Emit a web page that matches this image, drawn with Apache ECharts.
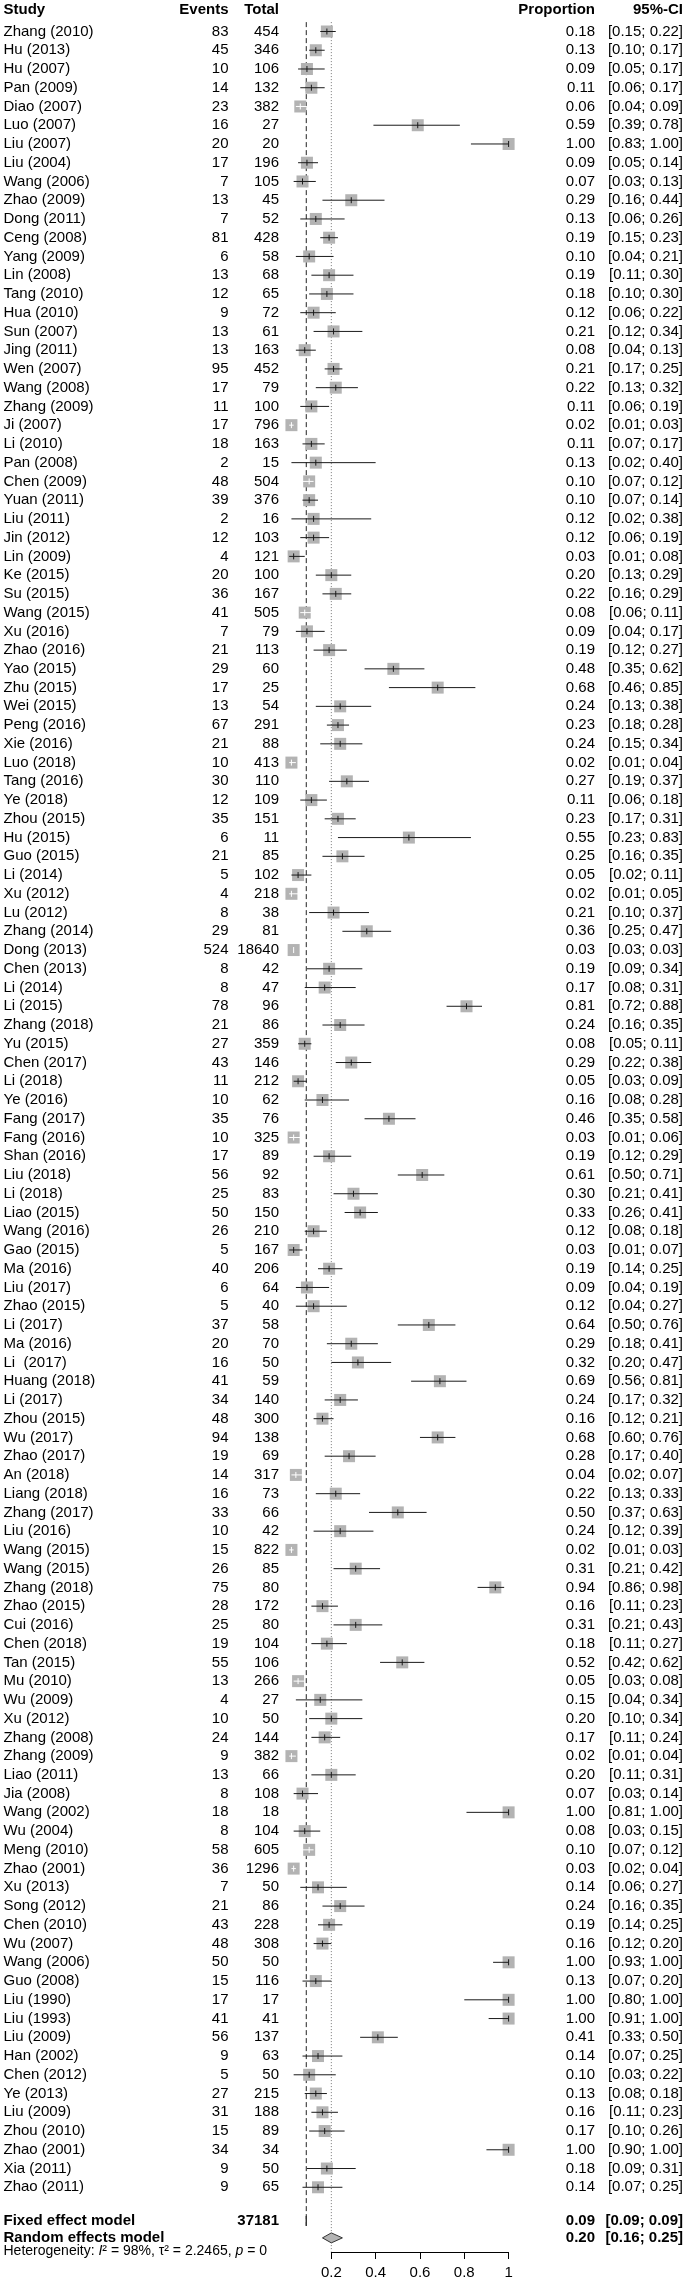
<!DOCTYPE html>
<html>
<head>
<meta charset="utf-8">
<script src="https://cdn.jsdelivr.net/npm/echarts@6/dist/echarts.min.js"></script>
<style>
  html, body { margin: 0; padding: 0; background: #fff; }
  #chart { width: 685px; height: 2281px; }
</style>
</head>
<body>
<div id="chart"></div>
<script>
// study rows, top to bottom
const studies = [
  'Zhang (2010)', 'Hu (2013)', 'Hu (2007)', 'Pan (2009)', 'Diao (2007)', 'Luo (2007)', 'Liu (2007)', 'Liu (2004)', 'Wang (2006)', 'Zhao (2009)',
  'Dong (2011)', 'Ceng (2008)', 'Yang (2009)', 'Lin (2008)', 'Tang (2010)', 'Hua (2010)', 'Sun (2007)', 'Jing (2011)', 'Wen (2007)', 'Wang (2008)',
  'Zhang (2009)', 'Ji (2007)', 'Li (2010)', 'Pan (2008)', 'Chen (2009)', 'Yuan (2011)', 'Liu (2011)', 'Jin (2012)', 'Lin (2009)', 'Ke (2015)',
  'Su (2015)', 'Wang (2015)', 'Xu (2016)', 'Zhao (2016)', 'Yao (2015)', 'Zhu (2015)', 'Wei (2015)', 'Peng (2016)', 'Xie (2016)', 'Luo (2018)',
  'Tang (2016)', 'Ye (2018)', 'Zhou (2015)', 'Hu (2015)', 'Guo (2015)', 'Li (2014)', 'Xu (2012)', 'Lu (2012)', 'Zhang (2014)', 'Dong (2013)',
  'Chen (2013)', 'Li (2014)', 'Li (2015)', 'Zhang (2018)', 'Yu (2015)', 'Chen (2017)', 'Li (2018)', 'Ye (2016)', 'Fang (2017)', 'Fang (2016)',
  'Shan (2016)', 'Liu (2018)', 'Li (2018)', 'Liao (2015)', 'Wang (2016)', 'Gao (2015)', 'Ma (2016)', 'Liu (2017)', 'Zhao (2015)', 'Li (2017)',
  'Ma (2016)', 'Li  (2017)', 'Huang (2018)', 'Li (2017)', 'Zhou (2015)', 'Wu (2017)', 'Zhao (2017)', 'An (2018)', 'Liang (2018)', 'Zhang (2017)',
  'Liu (2016)', 'Wang (2015)', 'Wang (2015)', 'Zhang (2018)', 'Zhao (2015)', 'Cui (2016)', 'Chen (2018)', 'Tan (2015)', 'Mu (2010)', 'Wu (2009)',
  'Xu (2012)', 'Zhang (2008)', 'Zhang (2009)', 'Liao (2011)', 'Jia (2008)', 'Wang (2002)', 'Wu (2004)', 'Meng (2010)', 'Zhao (2001)', 'Xu (2013)',
  'Song (2012)', 'Chen (2010)', 'Wu (2007)', 'Wang (2006)', 'Guo (2008)', 'Liu (1990)', 'Liu (1993)', 'Liu (2009)', 'Han (2002)', 'Chen (2012)',
  'Ye (2013)', 'Liu (2009)', 'Zhou (2010)', 'Zhao (2001)', 'Xia (2011)', 'Zhao (2011)'
]
const events = [
  83, 45, 10, 14, 23, 16, 20, 17, 7, 13,
  7, 81, 6, 13, 12, 9, 13, 13, 95, 17,
  11, 17, 18, 2, 48, 39, 2, 12, 4, 20,
  36, 41, 7, 21, 29, 17, 13, 67, 21, 10,
  30, 12, 35, 6, 21, 5, 4, 8, 29, 524,
  8, 8, 78, 21, 27, 43, 11, 10, 35, 10,
  17, 56, 25, 50, 26, 5, 40, 6, 5, 37,
  20, 16, 41, 34, 48, 94, 19, 14, 16, 33,
  10, 15, 26, 75, 28, 25, 19, 55, 13, 4,
  10, 24, 9, 13, 8, 18, 8, 58, 36, 7,
  21, 43, 48, 50, 15, 17, 41, 56, 9, 5,
  27, 31, 15, 34, 9, 9
]
const totals = [
  454, 346, 106, 132, 382, 27, 20, 196, 105, 45,
  52, 428, 58, 68, 65, 72, 61, 163, 452, 79,
  100, 796, 163, 15, 504, 376, 16, 103, 121, 100,
  167, 505, 79, 113, 60, 25, 54, 291, 88, 413,
  110, 109, 151, 11, 85, 102, 218, 38, 81, 18640,
  42, 47, 96, 86, 359, 146, 212, 62, 76, 325,
  89, 92, 83, 150, 210, 167, 206, 64, 40, 58,
  70, 50, 59, 140, 300, 138, 69, 317, 73, 66,
  42, 822, 85, 80, 172, 80, 104, 106, 266, 27,
  50, 144, 382, 66, 108, 18, 104, 605, 1296, 50,
  86, 228, 308, 50, 116, 17, 41, 137, 63, 50,
  215, 188, 89, 34, 50, 65
]
const proportion = [
  0.18, 0.13, 0.09, 0.11, 0.06, 0.59, 1.00, 0.09, 0.07, 0.29,
  0.13, 0.19, 0.10, 0.19, 0.18, 0.12, 0.21, 0.08, 0.21, 0.22,
  0.11, 0.02, 0.11, 0.13, 0.10, 0.10, 0.12, 0.12, 0.03, 0.20,
  0.22, 0.08, 0.09, 0.19, 0.48, 0.68, 0.24, 0.23, 0.24, 0.02,
  0.27, 0.11, 0.23, 0.55, 0.25, 0.05, 0.02, 0.21, 0.36, 0.03,
  0.19, 0.17, 0.81, 0.24, 0.08, 0.29, 0.05, 0.16, 0.46, 0.03,
  0.19, 0.61, 0.30, 0.33, 0.12, 0.03, 0.19, 0.09, 0.12, 0.64,
  0.29, 0.32, 0.69, 0.24, 0.16, 0.68, 0.28, 0.04, 0.22, 0.50,
  0.24, 0.02, 0.31, 0.94, 0.16, 0.31, 0.18, 0.52, 0.05, 0.15,
  0.20, 0.17, 0.02, 0.20, 0.07, 1.00, 0.08, 0.10, 0.03, 0.14,
  0.24, 0.19, 0.16, 1.00, 0.13, 1.00, 1.00, 0.41, 0.14, 0.10,
  0.13, 0.16, 0.17, 1.00, 0.18, 0.14
]
const lower = [
  0.15, 0.10, 0.05, 0.06, 0.04, 0.39, 0.83, 0.05, 0.03, 0.16,
  0.06, 0.15, 0.04, 0.11, 0.10, 0.06, 0.12, 0.04, 0.17, 0.13,
  0.06, 0.01, 0.07, 0.02, 0.07, 0.07, 0.02, 0.06, 0.01, 0.13,
  0.16, 0.06, 0.04, 0.12, 0.35, 0.46, 0.13, 0.18, 0.15, 0.01,
  0.19, 0.06, 0.17, 0.23, 0.16, 0.02, 0.01, 0.10, 0.25, 0.03,
  0.09, 0.08, 0.72, 0.16, 0.05, 0.22, 0.03, 0.08, 0.35, 0.01,
  0.12, 0.50, 0.21, 0.26, 0.08, 0.01, 0.14, 0.04, 0.04, 0.50,
  0.18, 0.20, 0.56, 0.17, 0.12, 0.60, 0.17, 0.02, 0.13, 0.37,
  0.12, 0.01, 0.21, 0.86, 0.11, 0.21, 0.11, 0.42, 0.03, 0.04,
  0.10, 0.11, 0.01, 0.11, 0.03, 0.81, 0.03, 0.07, 0.02, 0.06,
  0.16, 0.14, 0.12, 0.93, 0.07, 0.80, 0.91, 0.33, 0.07, 0.03,
  0.08, 0.11, 0.10, 0.90, 0.09, 0.07
]
const upper = [
  0.22, 0.17, 0.17, 0.17, 0.09, 0.78, 1.00, 0.14, 0.13, 0.44,
  0.26, 0.23, 0.21, 0.30, 0.30, 0.22, 0.34, 0.13, 0.25, 0.32,
  0.19, 0.03, 0.17, 0.40, 0.12, 0.14, 0.38, 0.19, 0.08, 0.29,
  0.29, 0.11, 0.17, 0.27, 0.62, 0.85, 0.38, 0.28, 0.34, 0.04,
  0.37, 0.18, 0.31, 0.83, 0.35, 0.11, 0.05, 0.37, 0.47, 0.03,
  0.34, 0.31, 0.88, 0.35, 0.11, 0.38, 0.09, 0.28, 0.58, 0.06,
  0.29, 0.71, 0.41, 0.41, 0.18, 0.07, 0.25, 0.19, 0.27, 0.76,
  0.41, 0.47, 0.81, 0.32, 0.21, 0.76, 0.40, 0.07, 0.33, 0.63,
  0.39, 0.03, 0.42, 0.98, 0.23, 0.43, 0.27, 0.62, 0.08, 0.34,
  0.34, 0.24, 0.04, 0.31, 0.14, 1.00, 0.15, 0.12, 0.04, 0.27,
  0.35, 0.25, 0.20, 1.00, 0.20, 1.00, 1.00, 0.50, 0.25, 0.22,
  0.18, 0.23, 0.26, 1.00, 0.31, 0.25
]

// pooled estimates
const modelNames = ['Fixed effect model', 'Random effects model']
const modelTotals = [37181, null]
const modelEst = [0.087, 0.20]
const modelLower = [0.086, 0.16]
const modelUpper = [0.088, 0.25]

const axisTicks = [0.2, 0.4, 0.6, 0.8, 1]
const heterogeneity = { i2: '98%', tau2: '2.2465', p: '0' }

// layout
const FAMILY = '"Liberation Sans", Arial, sans-serif'
const FONT = '15px ' + FAMILY
const BOLD = 'bold 15px ' + FAMILY
const X0 = 287          // pixel of proportion 0
const XW = 221.6        // pixels per unit proportion
const ROW0 = 31.5       // y of first study row
const ROWH = 18.75
const FIXED_ROW = 116.8
const RANDOM_ROW = 117.7
const AXIS_Y = 2252
const AXIS_ROW = (AXIS_Y - ROW0) / ROWH
const BOX = 12
const BOX_COLOR = '#b3b3b3'
const COL = { study: 3.5, events: 228.5, total: 279, prop: 595, ci: 683 }

const fmt = v => v.toFixed(2)
const ci = (lo, hi) => '[' + fmt(lo) + '; ' + fmt(hi) + ']'

function texts(y, cells, font) {
  return cells.map(([text, x, align]) => ({
    type: 'text',
    silent: true,
    style: { text, x, y, font, fill: '#000', align, verticalAlign: 'middle' }
  }))
}

function studyItem(params, api) {
  const i = params.dataIndex
  const row = api.value(1)
  const p = api.coord([api.value(0), row])
  const a = api.coord([api.value(2), row])
  const b = api.coord([api.value(3), row])
  const y = p[1]
  // CI narrower than the square is drawn in white
  const ink = b[0] - a[0] < BOX - 0.5 ? '#fff' : '#1a1a1a'
  return {
    type: 'group',
    children: [
      { type: 'rect', shape: { x: p[0] - BOX / 2, y: y - BOX / 2, width: BOX, height: BOX }, style: { fill: BOX_COLOR } },
      { type: 'line', shape: { x1: a[0], y1: y, x2: b[0], y2: y }, style: { stroke: ink, lineWidth: 1 } },
      { type: 'line', shape: { x1: p[0], y1: y - 3, x2: p[0], y2: y + 3 }, style: { stroke: ink, lineWidth: 1 } }
    ].concat(texts(y, [
      [studies[i], COL.study, 'left'],
      [String(events[i]), COL.events, 'right'],
      [String(totals[i]), COL.total, 'right'],
      [fmt(proportion[i]), COL.prop, 'right'],
      [ci(lower[i], upper[i]), COL.ci, 'right']
    ], FONT))
  }
}

function modelItem(params, api) {
  const i = params.dataIndex
  const row = api.value(1)
  const p = api.coord([api.value(0), row])
  const a = api.coord([api.value(2), row])
  const b = api.coord([api.value(3), row])
  const y = p[1]
  const cells = [
    [modelNames[i], COL.study, 'left'],
    [fmt(modelEst[i]), COL.prop, 'right'],
    [ci(modelLower[i], modelUpper[i]), COL.ci, 'right']
  ]
  if (modelTotals[i] != null) cells.push([String(modelTotals[i]), COL.total, 'right'])
  return {
    type: 'group',
    children: [
      {
        type: 'polygon',
        shape: { points: [[a[0], y], [p[0], y - 5], [b[0], y], [p[0], y + 5]] },
        style: { fill: BOX_COLOR, stroke: '#333', lineWidth: 1 }
      }
    ].concat(texts(y, cells, BOLD))
  }
}

const chart = echarts.init(document.getElementById('chart'), null, { renderer: 'canvas' })

chart.setOption({
  animation: false,
  backgroundColor: '#fff',
  grid: [
    { left: X0, width: XW, top: ROW0 - ROWH, height: ROWH * 121 },
    { left: X0 + XW * 0.2, width: XW * 0.8, top: AXIS_Y - 1, height: 1 }
  ],
  xAxis: [
    { type: 'value', gridIndex: 0, min: 0, max: 1, show: false },
    {
      type: 'value', gridIndex: 1, min: axisTicks[0], max: axisTicks[axisTicks.length - 1], interval: 0.2,
      position: 'bottom',
      splitLine: { show: false },
      axisLine: { show: true, lineStyle: { color: '#000', width: 1 } },
      axisTick: { show: true, length: 7, lineStyle: { color: '#000' } },
      axisLabel: { color: '#000', fontSize: 15, fontFamily: FAMILY, margin: 13, showMinLabel: true, showMaxLabel: true }
    }
  ],
  yAxis: [
    { type: 'value', gridIndex: 0, min: -1, max: 120, inverse: true, show: false },
    { type: 'value', gridIndex: 1, show: false }
  ],
  graphic: [
    ...texts(10, [
      ['Study', COL.study, 'left'],
      ['Events', COL.events, 'right'],
      ['Total', COL.total, 'right'],
      ['Proportion', COL.prop, 'right'],
      ['95%-CI', COL.ci, 'right']
    ], BOLD),
    {
      type: 'text',
      silent: true,
      style: {
        x: COL.study,
        y: AXIS_Y - 1,
        verticalAlign: 'middle',
        text: '{n|Heterogeneity: }{i|I}{n|² = ' + heterogeneity.i2 + ', τ² = ' + heterogeneity.tau2 + ', }{i|p}{n| = ' + heterogeneity.p + '}',
        rich: {
          n: { fontSize: 14, fontFamily: FAMILY, fill: '#000' },
          i: { fontSize: 14, fontFamily: FAMILY, fontStyle: 'italic', fill: '#000' }
        }
      }
    }
  ],
  series: [
    {
      name: 'fixed line',
      type: 'line',
      xAxisIndex: 0,
      yAxisIndex: 0,
      data: [[modelEst[0], -0.5], [modelEst[0], FIXED_ROW + 0.25]],
      showSymbol: false,
      silent: true,
      z: 1,
      lineStyle: { color: '#222', width: 1, type: [5, 3] }
    },
    {
      name: 'random line',
      type: 'line',
      xAxisIndex: 0,
      yAxisIndex: 0,
      data: [[modelEst[1], -0.5], [modelEst[1], AXIS_ROW]],
      showSymbol: false,
      silent: true,
      z: 1,
      lineStyle: { color: '#777', width: 1, type: [1, 2] }
    },
    {
      name: 'studies',
      type: 'custom',
      xAxisIndex: 0,
      yAxisIndex: 0,
      z: 2,
      silent: true,
      renderItem: studyItem,
      data: studies.map((s, i) => [proportion[i], i, lower[i], upper[i]])
    },
    {
      name: 'models',
      type: 'custom',
      xAxisIndex: 0,
      yAxisIndex: 0,
      z: 2,
      silent: true,
      renderItem: modelItem,
      data: modelNames.map((s, i) => [modelEst[i], i === 0 ? FIXED_ROW : RANDOM_ROW, modelLower[i], modelUpper[i]])
    }
  ]
})
</script>
</body>
</html>
